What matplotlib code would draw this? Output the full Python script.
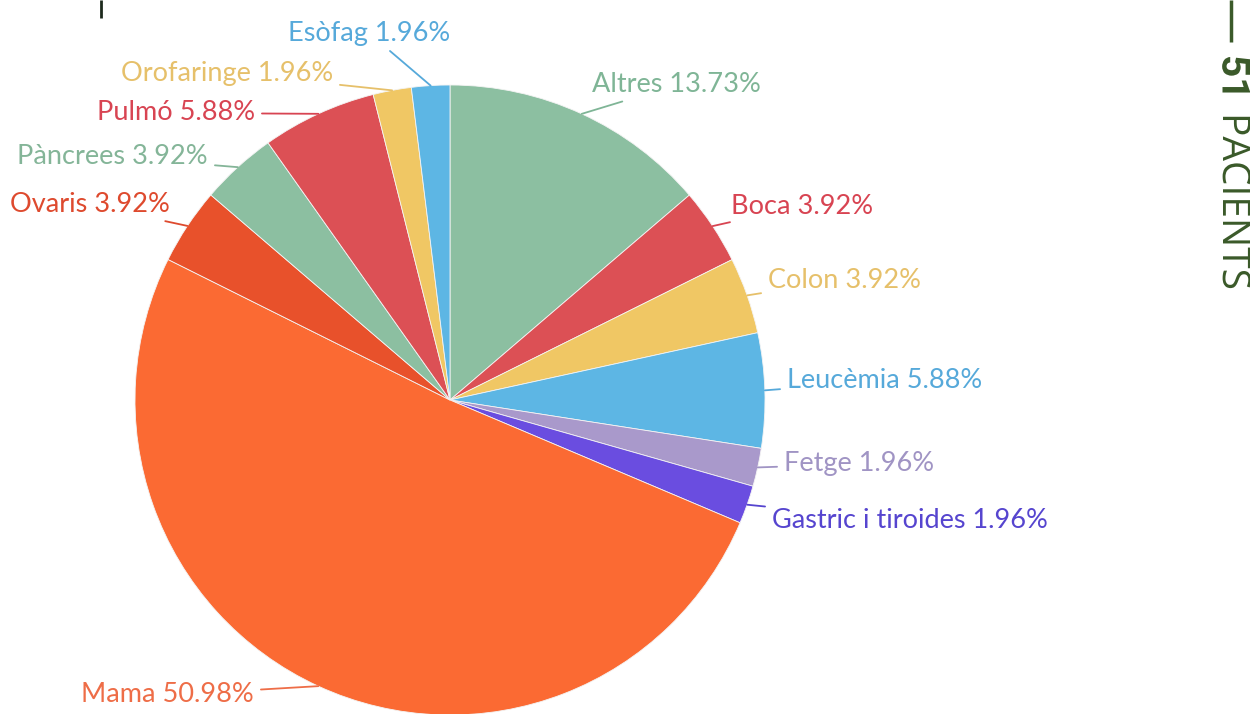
import numpy as np
import matplotlib.pyplot as plt
import matplotlib.patheffects as pe

# slice data, clockwise from 12 o'clock
labels = ["Altres", "Boca", "Colon", "Leucèmia", "Fetge", "Gastric i tiroides",
          "Mama", "Ovaris", "Pàncrees", "Pulmó", "Orofaringe", "Esòfag"]
pcts = [13.73, 3.92, 3.92, 5.88, 1.96, 1.96, 50.98, 3.92, 3.92, 5.88, 1.96, 1.96]
n_patients = 51

wedge_colors = ["#8CBFA1", "#DC5055", "#F0C764", "#5DB6E4", "#A999CB", "#6A4DE0",
                "#FB6A33", "#E8512B", "#8CBFA1", "#DC5055", "#F0C764", "#5DB6E4"]
text_colors = ["#7FB596", "#D84452", "#E6C06A", "#56A9DA", "#A094C4", "#5645CF",
               "#EE6D47", "#DE4A2E", "#84B598", "#D84452", "#E6C06A", "#56A9DA"]

# label layout (pixel coords): text anchor x, y, horizontal alignment
label_pos = [(592, 85, "left"), (731, 206, "left"), (768, 280, "left"),
             (787, 381, "left"), (784, 464, "left"), (772, 521, "left"),
             (254, 695, "right"), (170, 205, "right"), (208, 157, "right"),
             (255, 113, "right"), (333, 73, "right"), (450, 33, "right")]

W, H = 1250, 714
cx, cy, R = 450, 400, 315

fig = plt.figure(figsize=(W / 100, H / 100), dpi=100)
ax = fig.add_axes([0, 0, 1, 1])

# y axis is inverted below, so counterclock=True with startangle=-90 runs
# clockwise from the top on screen
wedges, _ = ax.pie(pcts, colors=wedge_colors, startangle=-90, counterclock=True,
                   center=(cx, cy), radius=R,
                   wedgeprops=dict(linewidth=0.6, edgecolor="#f4f4f4"))

ax.set_xlim(0, W)
ax.set_ylim(H, 0)
ax.set_aspect("equal")
ax.axis("off")

for w, lab, p, tc, (tx, ty, ha) in zip(wedges, labels, pcts, text_colors, label_pos):
    mid = np.deg2rad((w.theta1 + w.theta2) / 2)
    px, py = cx + R * np.cos(mid), cy + R * np.sin(mid)
    ax.annotate(f"{lab} {p:.2f}%", xy=(px, py), xytext=(tx, ty),
                ha=ha, va="center", color=tc, fontsize=19.5, family="Lato",
                arrowprops=dict(arrowstyle="-", color=tc, lw=1.3,
                                shrinkA=3, shrinkB=0))

# side decorations
green = "#3B5A2A"
ax.plot([1231, 1231], [0, 42], color=green, lw=2.5, solid_capstyle="butt")
ax.plot([101, 101], [0, 18], color="#1d2a1d", lw=2, solid_capstyle="butt")
# path effects draw the rotated text as outlines, which keeps glyph spacing even
ax.text(1233, 55, str(n_patients), rotation=-90, ha="center", va="top",
        fontsize=28, fontweight="bold", color=green, family="Roboto",
        path_effects=[pe.Normal()])
ax.text(1233, 113, "PACIENTS", rotation=-90, ha="center", va="top",
        fontsize=28, fontweight="normal", color=green, family="Open Sans",
        path_effects=[pe.Normal()])

fig.savefig("out.png", dpi=100)
